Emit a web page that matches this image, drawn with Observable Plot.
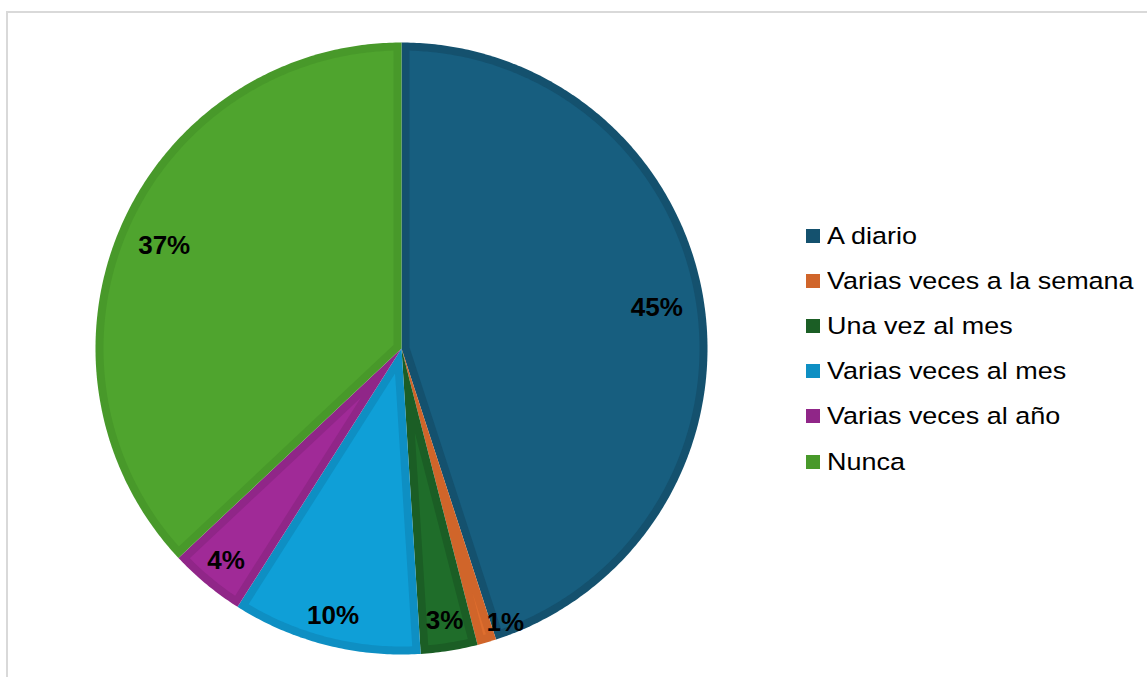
<!DOCTYPE html>
<html>
<head>
<meta charset="utf-8">
<script src="https://cdn.jsdelivr.net/npm/d3@7"></script>
<script src="https://cdn.jsdelivr.net/npm/@observablehq/plot@0.6"></script>
<style>
  html, body { margin: 0; padding: 0; background: #fff; }
  #wrap { position: relative; width: 1147px; height: 677px; overflow: hidden; font-family: "Liberation Sans", Arial, sans-serif; }
  #frame { position: absolute; left: 6px; top: 11px; width: 1160px; height: 700px; border: 2px solid #d9d9d9; box-sizing: border-box; }
  #chart { position: absolute; left: 0; top: 0; }
  #legend { position: absolute; left: 806px; top: 213px; }
  .item { display: flex; align-items: center; height: 45.2px; color: #000; white-space: nowrap; }
  .sw { width: 14px; height: 14px; margin-right: 7px; flex: none; }
  .tx { font-size: 24.5px; display: inline-block; transform: scaleX(1.1); transform-origin: left center; }
</style>
</head>
<body>
<div id="wrap">
  <div id="frame"></div>
  <div id="chart"></div>
  <div id="legend"></div>
</div>
<script>
const categories = ["A diario", "Varias veces a la semana", "Una vez al mes", "Varias veces al mes", "Varias veces al año", "Nunca"];
const values = [45, 1, 3, 10, 4, 37];
const labels = ["45%", "1%", "3%", "10%", "4%", "37%"];
const fills = ["#175e7f", "#df6e2e", "#1f6d2a", "#0f9fd7", "#a02a97", "#4fa42e"];
const edges = ["#14516e", "#d0652a", "#1b5e25", "#0e8fc3", "#902688", "#48992a"];

const W = 1147, H = 677;
const total = d3.sum(values);
const pie = d3.pie().sort(null).value(d => d)(values);
const inset = 8 / 306; // band width in radius units

const outer = [], inner = [], textData = [];
pie.forEach((p, i) => {
  const a0 = p.startAngle, a1 = p.endAngle;
  const n = Math.max(2, Math.ceil((a1 - a0) / 0.01));
  outer.push({k: i, x: 0, y: 0, c: edges[i]});
  for (let j = 0; j <= n; j++) {
    const a = a0 + (a1 - a0) * j / n;
    outer.push({k: i, x: Math.sin(a), y: Math.cos(a), c: edges[i]});
  }
  const th = a1 - a0;
  const r = 1 - inset;
  const off = Math.asin(Math.min(1, inset / r));
  if (th > 2 * off + 0.001) {
    const mid = (a0 + a1) / 2;
    const dv = th < Math.PI ? inset / Math.sin(th / 2) : inset;
    inner.push({k: i, x: dv * Math.sin(mid), y: dv * Math.cos(mid), c: fills[i]});
    const b0 = a0 + off, b1 = a1 - off;
    const m = Math.max(2, Math.ceil((b1 - b0) / 0.01));
    for (let j = 0; j <= m; j++) {
      const a = b0 + (b1 - b0) * j / m;
      inner.push({k: i, x: r * Math.sin(a), y: r * Math.cos(a), c: fills[i]});
    }
  }
  const mid = (a0 + a1) / 2;
  const share = values[i] / total;
  const lr = share > 0.2 ? 0.845 : 0.9;
  // tiny slices: label nudged outward-clockwise like Excel's best fit
  const la = share < 0.02 ? mid - 0.03 : mid;
  const lr2 = share < 0.02 ? 0.94 : lr;
  textData.push({x: lr2 * Math.sin(la) + (share < 0.02 ? 0.05 : 0), y: lr2 * Math.cos(la), t: labels[i]});
});

const R = 306, cx = 401, cy = 348;
const plot = Plot.plot({
  width: W,
  height: H,
  marginLeft: cx - R,
  marginRight: W - (cx + R),
  marginTop: cy - R,
  marginBottom: H - (cy + R),
  x: {domain: [-1, 1], axis: null},
  y: {domain: [-1, 1], axis: null},
  color: {type: "identity"},
  style: {background: "transparent", overflow: "visible"},
  marks: [
    Plot.line(outer, {x: "x", y: "y", z: "k", fill: "c", stroke: "none", curve: "linear-closed"}),
    Plot.line(inner, {x: "x", y: "y", z: "k", fill: "c", stroke: "none", curve: "linear-closed"}),
    Plot.text(textData, {x: "x", y: "y", text: "t", fill: "#000", fontSize: 26, fontWeight: "bold", fontFamily: "Liberation Sans, Arial, sans-serif"})
  ]
});
document.getElementById("chart").appendChild(plot);

const leg = document.getElementById("legend");
categories.forEach((c, i) => {
  const it = document.createElement("div");
  it.className = "item";
  const sw = document.createElement("span");
  sw.className = "sw";
  sw.style.background = edges[i];
  const tx = document.createElement("span");
  tx.className = "tx";
  tx.textContent = c;
  it.appendChild(sw);
  it.appendChild(tx);
  leg.appendChild(it);
});
</script>
</body>
</html>
